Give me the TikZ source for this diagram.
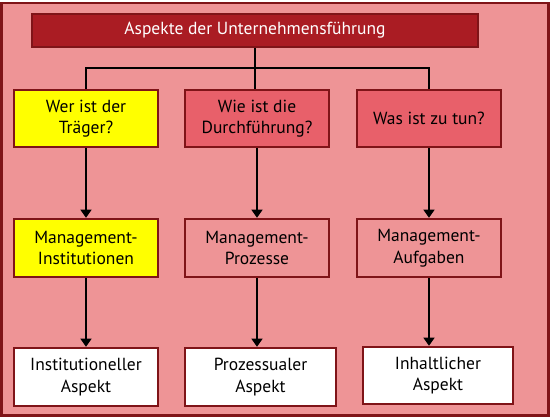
\documentclass[tikz,border=0pt]{standalone}
\usepackage{fontspec}
\setmainfont{PT Sans}
\usetikzlibrary{arrows.meta}
\definecolor{bgred}{HTML}{EE9496}
\definecolor{darkborder}{HTML}{7F1418}
\definecolor{titlered}{HTML}{AA1C23}
\definecolor{midred}{HTML}{E8606A}
\definecolor{yel}{HTML}{FFFF00}
\tikzset{
  box/.style={draw=darkborder, line width=2.5pt, align=center, inner sep=0pt,
    font=\fontsize{17.5}{21.5}\selectfont, text=black},
  conn/.style={line width=1.2pt, black},
  arr/.style={conn, -{Triangle[width=11pt,length=8pt]}},
}
\begin{document}
\begin{tikzpicture}[x=1pt,y=-1pt]
\useasboundingbox (0,0) rectangle (550,417);
\draw[fill=bgred, draw=darkborder, line width=2.5pt] (1.5,3) rectangle (548.5,415.5);
\node[box, fill=titlered, text=white, minimum width=446pt, minimum height=33pt] (title) at (255,30.5) {Aspekte der Unternehmensführung};
% row 1
\node[box, fill=yel, minimum width=144pt, minimum height=57pt] (r1a) at (86,118.5) {Wer ist der\\Träger?};
\node[box, fill=midred, minimum width=144pt, minimum height=57pt] (r1b) at (257,118.5) {Wie ist die\\Durchführung?};
\node[box, fill=midred, minimum width=144pt, minimum height=57pt] (r1c) at (429,118.5) {Was ist zu tun?};
% row 2
\node[box, fill=yel, minimum width=144pt, minimum height=58pt] (r2a) at (86,248) {Management-\\Institutionen};
\node[box, fill=bgred, minimum width=144pt, minimum height=58pt] (r2b) at (257,248) {Management-\\Prozesse};
\node[box, fill=bgred, minimum width=144pt, minimum height=58pt] (r2c) at (429,248) {Management-\\Aufgaben};
% row 3
\node[box, fill=white, minimum width=144pt, minimum height=58pt] (r3a) at (86,377) {Institutioneller\\Aspekt};
\node[box, fill=white, minimum width=151pt, minimum height=58pt] (r3b) at (260.5,377) {Prozessualer\\Aspekt};
\node[box, fill=white, minimum width=150pt, minimum height=57pt] (r3c) at (438,375.5) {Inhaltlicher\\Aspekt};
% connectors
\coordinate (j) at (255,68);
\draw[conn] (title.south -| j) -- (j);
\draw[conn] (r1a.north) |- (j) -| (r1c.north);
\draw[conn] (j) -- (j |- r1b.north);
\draw[arr] (r1a.south) -- (r2a.north);
\draw[arr] (r1b.south) -- (r2b.north);
\draw[arr] (r1c.south) -- (r2c.north);
\draw[arr] (r2a.south) -- (r2a.south |- r3a.north);
\draw[arr] (r2b.south) -- (r2b.south |- r3b.north);
\draw[arr] (r2c.south) -- (r2c.south |- r3c.north);
\end{tikzpicture}
\end{document}
